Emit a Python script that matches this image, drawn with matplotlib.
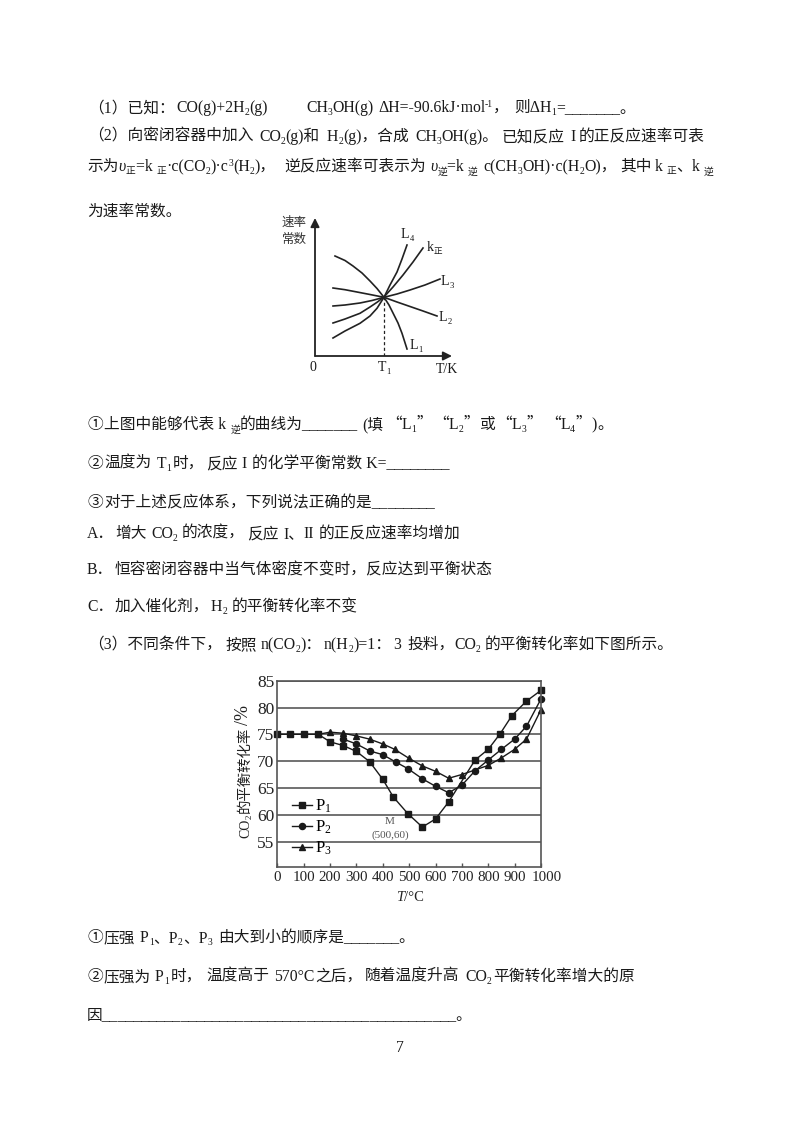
import re
import matplotlib
matplotlib.use("Agg")
import matplotlib.pyplot as plt
from matplotlib.transforms import ScaledTranslation

plt.rcParams['font.family'] = ['Liberation Serif', 'Noto Sans CJK SC', 'DejaVu Sans']
plt.rcParams['mathtext.fontset'] = 'custom'
plt.rcParams['mathtext.rm'] = 'Liberation Serif'

# equilibrium conversion chart
p1_temp = [0, 50, 100, 155, 200, 250, 300, 350, 400, 440, 495, 550, 600, 650, 750, 800, 845, 890, 945, 1000]
p1_conv = [75, 75, 75, 75, 73.6, 72.9, 71.8, 69.9, 66.6, 63.3, 60.2, 57.7, 59.2, 62.4, 70.2, 72.2, 75.1, 78.5, 81.2, 83.2]
p2_temp = [250, 300, 350, 400, 450, 495, 550, 600, 650, 700, 750, 800, 850, 900, 945, 1000]
p2_conv = [74.1, 73.2, 71.9, 71.2, 69.8, 68.6, 66.7, 65.3, 64.1, 65.5, 68.2, 70.2, 72.2, 74.1, 76.5, 81.6]
p3_temp = [155, 200, 250, 300, 350, 400, 445, 500, 550, 600, 650, 700, 800, 850, 900, 945, 1000]
p3_conv = [75, 75.4, 75.2, 74.7, 74.1, 73.2, 72.2, 70.5, 69.1, 68.1, 66.8, 67.5, 69.2, 70.6, 72.2, 74.1, 79.6]
conv_ticks = [55, 60, 65, 70, 75, 80, 85]
temp_ticks = [0, 100, 200, 300, 400, 500, 600, 700, 800, 900, 1000]

# rate constant sketch
l1_x = [20, 30, 38, 47, 55, 62, 69, 74, 78, 83, 87, 92]
l1_y = [100, 95.5, 90, 83, 75, 67.5, 58.7, 51, 43, 33, 22.7, 7]
l2_x = [18, 30, 42, 55, 69, 82, 95, 108, 122]
l2_y = [68, 66.3, 64, 61.5, 58.7, 54, 49.5, 45, 40]
l3_x = [18, 30, 45, 57, 69, 82, 95, 110, 125]
l3_y = [50, 51, 53, 55.5, 58.7, 62, 66, 71, 77]
k_x = [18, 30, 45, 55, 62, 69, 78, 88, 98, 108]
k_y = [33, 37, 42.7, 49, 53.7, 59, 69, 81, 94, 108]
l4_x = [18, 30, 45, 55, 62, 69, 75, 82, 87, 92]
l4_y = [18, 25, 32.7, 40, 47.7, 58.7, 71, 84, 97, 111]
t1_x = 69
t1_y = 58.7

# pieces of the page text: x, baseline y, marked up text
# the original is justified, so long lines are split up
page_lines = [
    (88, 112, '（1）已知：'),
    (176, 112, 'CO(g)+2H_{2}(g)'),
    (306, 112, 'CH_{3}OH(g)'),
    (378, 112, 'ΔH=-90.6kJ·mol^{-1}，'),
    (514, 112, '则ΔH_{1}=_______。'),
    (88, 141, '（2）向密闭容器中加入'),
    (259, 141, 'CO_{2}(g)和'),
    (327, 141, 'H_{2}(g)，合成'),
    (415, 141, 'CH_{3}OH(g)。'),
    (502, 141, '已知反应'),
    (570, 141, 'I'),
    (579, 141, '的正反应速率可表'),
    (87, 171, '示为*{υ}_{正}=k _{正}·c(CO_{2})·c^{3}(H_{2})，'),
    (284, 171, '逆反应速率可表示为'),
    (430, 171, '*{υ}_{逆}=k _{逆}'),
    (483, 171, 'c(CH_{3}OH)·c(H_{2}O)，'),
    (620, 171, '其中'),
    (655, 171, 'k _{正}、'),
    (692, 171, 'k _{逆}'),
    (87, 216, '为速率常数。'),
    (87, 429, '①'),
    (104, 429, '上图中能够代表 k _{逆}的曲线为_______'),
    (362, 429, '(填'),
    (386, 429, '#{“}L_{1}#{”}'),
    (433, 429, '#{“}L_{2}#{”}'),
    (480, 429, '或'),
    (496, 429, '#{“}L_{3}#{”}'),
    (545, 429, '#{“}L_{4}#{”}'),
    (591, 429, ')'),
    (597, 429, '。'),
    (87, 468, '②'),
    (104, 468, '温度为'),
    (157, 468, 'T_{1}'),
    (173, 468, '时，'),
    (206, 468, '反应'),
    (241, 468, 'I'),
    (252, 468, '的化学平衡常数 K=________'),
    (87, 507, '③'),
    (104, 507, '对于上述反应体系，下列说法正确的是________'),
    (87, 538, 'A．'),
    (115, 538, '增大'),
    (151, 538, 'CO_{2}'),
    (182, 538, '的浓度，'),
    (247, 538, '反应'),
    (283, 538, 'I、'),
    (303, 538, 'II'),
    (319, 538, '的正反应速率均增加'),
    (87, 574, 'B．'),
    (115, 574, '恒容密闭容器中当气体密度不变时，反应达到平衡状态'),
    (87, 611, 'C．'),
    (115, 611, '加入催化剂，'),
    (211, 611, 'H_{2}'),
    (232, 611, '的平衡转化率不变'),
    (88, 649, '（3）不同条件下，'),
    (226, 649, '按照'),
    (261, 649, 'n(CO_{2})：'),
    (324, 649, 'n(H_{2})=1：'),
    (393, 649, '3'),
    (407, 649, '投料，'),
    (454, 649, 'CO_{2}'),
    (485, 649, '的平衡转化率如下图所示。'),
    (87, 942, '①'),
    (104, 942, '压强'),
    (140, 942, 'P_{1}、P_{2}、P_{3}'),
    (218, 942, '由大到小的顺序是_______。'),
    (87, 981, '②'),
    (104, 981, '压强为'),
    (155, 981, 'P_{1}'),
    (171, 981, '时，'),
    (206, 981, '温度高于'),
    (274, 981, '570°C'),
    (315, 981, '之后，'),
    (365, 981, '随着温度升高'),
    (465, 981, 'CO_{2}'),
    (493, 981, '平衡转化率增大的原'),
    (87, 1019, '因_____________________________________________。'),
    (396, 1052, '7'),
]
sketch_labels = [
    ('L_{4}', 401, 238), ('k_{正}', 427, 251), ('L_{3}', 441, 285), ('L_{2}', 439, 321),
    ('L_{1}', 410, 349), ('0', 309, 371), ('T_{1}', 378, 371), ('T/K', 436, 373),
]

W, H = 800, 1130
fig = plt.figure(figsize=(W / 100, H / 100), dpi=100)


def px_axes(left, top, right, bottom):
    return fig.add_axes([left / W, 1 - bottom / H, (right - left) / W, (bottom - top) / H])


page = fig.add_axes([0, 0, 1, 1], zorder=5)
page.set_xlim(0, W)
page.set_ylim(H, 0)
page.axis('off')
page.patch.set_alpha(0)
renderer = fig.canvas.get_renderer()
TOKEN = re.compile(r'_\{(.*?)\}|\^\{(.*?)\}|\*\{(.*?)\}|#\{(.*?)\}')


def text_width(s, **kw):
    # bars on both sides so that spaces get counted
    t = page.text(0, 0, '|' + s + '|', **kw)
    w = t.get_window_extent(renderer).width
    t.set_text('||')
    w -= t.get_window_extent(renderer).width
    t.remove()
    return w


def draw_runs(x, y, s, size=11.3, color='#1a1a1a'):
    pos = 0
    runs = []
    for m in TOKEN.finditer(s):
        if m.start() > pos:
            runs.append((s[pos:m.start()], size, 0, {}))
        if m.group(1) is not None:
            runs.append((m.group(1), size * 0.62, size * 0.3, {}))
        elif m.group(2) is not None:
            runs.append((m.group(2), size * 0.62, -size * 0.42, {}))
        elif m.group(3) is not None:
            runs.append((m.group(3), size, 0, {'style': 'italic'}))
        else:
            # quotes at full width
            runs.append((m.group(4), size, 0, {'family': ['Noto Sans CJK SC']}))
        pos = m.end()
    if pos < len(s):
        runs.append((s[pos:], size, 0, {}))
    for txt, fs, dy, extra in runs:
        kw = dict(fontsize=fs, **extra)
        page.text(x, y + dy, txt, color=color, va='baseline', ha='left', **kw)
        x += text_width(txt, **kw)


for x, y, s in page_lines:
    draw_runs(x, y, s)

# rate constant sketch
ax1 = px_axes(315, 218, 452, 356)
ax1.set_xlim(0, 137)
ax1.set_ylim(0, 138)
ax1.axis('off')
ax1.patch.set_alpha(0)
for xs, ys in [(l1_x, l1_y), (l2_x, l2_y), (l3_x, l3_y), (k_x, k_y), (l4_x, l4_y)]:
    ax1.plot(xs, ys, color='#222222', lw=1.2)
ax1.plot([t1_x, t1_x], [0, t1_y], color='#222222', lw=0.9, ls=(0, (2.5, 2)))
ax1.annotate('', xy=(137, 0), xytext=(0, 0), xycoords='data',
             arrowprops=dict(arrowstyle='-|>', color='#222222', lw=1.3, shrinkA=0, shrinkB=0, mutation_scale=13), annotation_clip=False)
ax1.annotate('', xy=(0, 138), xytext=(0, 0), xycoords='data',
             arrowprops=dict(arrowstyle='-|>', color='#222222', lw=1.3, shrinkA=0, shrinkB=0, mutation_scale=13), annotation_clip=False)
for s, x, y in sketch_labels:
    draw_runs(x, y, s, size=10)
page.text(294, 223, '速率', fontsize=9, ha='center', va='center', color='#333333')
page.text(294, 240, '常数', fontsize=9, ha='center', va='center', color='#333333')

# conversion chart
ax2 = px_axes(277.3, 680.7, 541, 866.7)
ax2.set_xlim(0, 1000)
ax2.set_ylim(50.3, 85)
ax2.set_xticks(temp_ticks)
ax2.set_yticks(conv_ticks)
ax2.tick_params(axis='x', direction='in', length=3, width=1, color='#555555', labelsize=10.8, pad=3, labelcolor='#222222')
ax2.tick_params(axis='y', length=0, labelsize=12.5, pad=2, labelcolor='#222222')
ax2.grid(axis='y', color='#666666', lw=1.3)
ax2.set_axisbelow(True)
# the last label sits a little to the right in the original
last = ax2.get_xticklabels()[-1]
last.set_transform(last.get_transform() + ScaledTranslation(6 / 100, 0, fig.dpi_scale_trans))
for sp in ax2.spines.values():
    sp.set_color('#555555')
    sp.set_linewidth(1.2)
line_kw = dict(color='#1a1a1a', lw=1.0, clip_on=False)
ax2.plot(p1_temp, p1_conv, marker='s', ms=4.4, label=r'$\mathrm{P_1}$', **line_kw)
ax2.plot(p2_temp, p2_conv, marker='o', ms=4.4, label=r'$\mathrm{P_2}$', **line_kw)
ax2.plot(p3_temp, p3_conv, marker='^', ms=4.2, label=r'$\mathrm{P_3}$', **line_kw)
ax2.legend(loc='upper left', bbox_to_anchor=(0.057, 0.37), frameon=False, fontsize=12,
           handlelength=1.2, labelspacing=0.22, borderpad=0, borderaxespad=0, handletextpad=0.15)
ax2.text(427, 58.8, 'M', fontsize=8, color='#555555', ha='center', va='center')
ax2.text(427, 56.2, '(500,60)', fontsize=8, color='#555555', ha='center', va='center')

# rotated y label, pieces stacked by hand because of the subscript
y_base = 252
rot_kw = dict(rotation=90, ha='left', va='bottom', rotation_mode='anchor', color='#222222')
page.text(y_base, 838, 'CO', fontsize=10, **rot_kw)
page.text(y_base + 2, 819, '2', fontsize=6.5, **rot_kw)
page.text(y_base, 813, '的平衡转化率', fontsize=10.4, **rot_kw)
page.text(y_base, 725, '/%', fontsize=13, **rot_kw)
draw_runs(396, 901, '*{T}/°C', size=10.5, color='#222222')

fig.savefig('out.png', dpi=100, facecolor='white')
